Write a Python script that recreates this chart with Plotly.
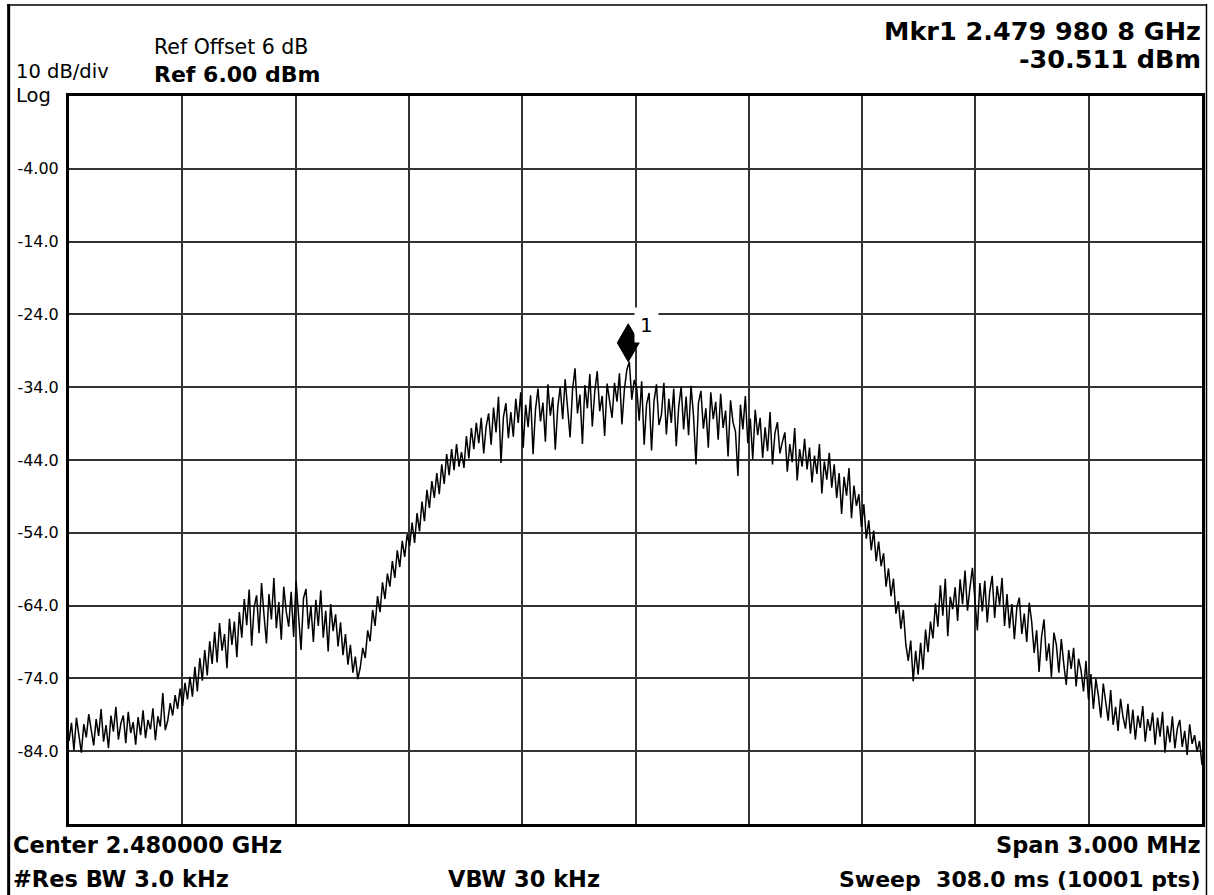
import numpy as np
import plotly.graph_objects as go

# ---------------- data ----------------
CENTER_MHZ = 2480.0
SPAN_MHZ = 3.0
REF_LEVEL_DBM = 6.0
DB_PER_DIV = 10.0
N_DIV = 10

y_tick_vals = [-4, -14, -24, -34, -44, -54, -64, -74, -84]
y_tick_text = ["-4.00", "-14.0", "-24.0", "-34.0", "-44.0", "-54.0", "-64.0", "-74.0", "-84.0"]

# trace levels (dBm), evenly spaced across the span
trace_dbm = [
    -82.6, -80.1, -83.9, -79.4, -81.8, -84.2, -80.3, -82.1, -78.9, -81.4,
    -83.2, -79.6, -81.9, -78.2, -82.7, -80.4, -83.6, -79.1, -81.3, -77.9,
    -82.4, -80.2, -79.1, -82.9, -78.6, -81.5, -80.0, -83.1, -79.3, -81.8,
    -78.4, -82.2, -79.7, -81.0, -78.1, -82.5, -79.2, -80.6, -76.0, -81.1,
    -79.8, -77.4, -79.1, -76.3, -78.2, -75.4, -77.8, -74.6, -76.9, -73.8,
    -76.5, -72.4, -75.8, -71.2, -74.3, -70.1, -73.6, -68.9, -72.0, -67.6,
    -71.8, -66.4, -70.2, -67.9, -72.6, -65.8, -69.4, -66.2, -71.1, -64.9,
    -68.4, -63.1, -66.7, -61.8, -69.5, -64.2, -62.6, -67.8, -60.9, -65.3,
    -69.2, -62.4, -65.9, -60.2, -67.1, -63.5, -68.7, -61.4, -64.8, -66.9,
    -62.1, -68.3, -60.6, -65.4, -70.1, -63.0, -61.7, -67.2, -64.1, -69.0,
    -63.2, -66.8, -61.9, -68.4, -64.7, -70.3, -63.8, -67.5, -65.2, -69.6,
    -66.3, -70.8, -67.9, -72.1, -69.4, -73.2, -71.0, -74.1, -72.5, -69.8,
    -71.2, -67.4, -68.9, -64.6, -66.8, -62.7, -64.9, -60.8, -63.1, -59.6,
    -61.4, -57.9, -60.2, -56.4, -58.7, -55.1, -57.3, -54.2, -55.8, -52.6,
    -55.4, -51.3, -53.8, -49.7, -52.4, -48.1, -50.6, -46.9, -49.2, -45.8,
    -48.7, -44.6, -47.3, -43.2, -46.1, -42.5, -45.4, -41.8, -44.9, -42.9,
    -45.1, -40.7, -43.8, -39.6, -42.5, -38.9, -41.7, -38.2, -43.1, -39.4,
    -37.6, -41.9, -36.8, -40.2, -35.3, -44.4, -38.1, -36.2, -41.0, -37.4,
    -40.8, -35.6, -38.9, -34.7, -42.3, -36.4, -39.5, -35.1, -43.2, -37.0,
    -34.2, -38.7, -36.1, -41.5, -33.6, -37.9, -35.4, -42.6, -36.8, -33.9,
    -38.4, -32.9, -36.7, -40.9, -34.3, -31.4, -37.6, -35.0, -41.8, -33.7,
    -36.9, -32.2, -39.4, -34.6, -31.8, -37.3, -35.2, -40.7, -33.5, -36.1,
    -38.2, -33.4, -36.0, -32.1, -39.1, -34.3, -31.6, -30.511, -35.7, -33.0,
    -34.1, -38.6, -33.2, -41.9, -36.3, -34.8, -42.7, -35.9, -33.6, -39.2,
    -37.8, -33.4, -40.5, -35.6, -38.9, -34.2, -42.1, -36.7, -33.9, -39.8,
    -35.3, -40.6, -33.8, -37.9, -44.6, -36.2, -34.5, -39.7, -36.9, -42.3,
    -34.7, -38.4, -36.0, -41.2, -34.9, -39.6, -37.2, -43.5, -35.8, -38.8,
    -40.1, -46.2, -36.4, -39.8, -35.2, -41.7, -38.3, -43.9, -37.1, -40.6,
    -38.2, -43.7, -39.5, -42.8, -37.4, -44.6, -40.3, -38.8, -43.1, -41.5,
    -40.2, -45.6, -41.8, -44.3, -39.6, -46.8, -42.5, -44.9, -41.1, -45.3,
    -42.3, -47.1, -43.4, -45.9, -41.8, -48.6, -44.2, -46.7, -43.0, -47.8,
    -44.6, -49.2, -45.8, -51.4, -46.3, -48.9, -45.1, -52.0, -47.5, -50.3,
    -48.7, -53.2, -50.1, -54.8, -52.3, -56.4, -53.7, -57.9, -55.2, -58.6,
    -56.8, -61.4, -58.9, -62.7, -60.3, -65.1, -63.4, -67.2, -64.6, -69.3,
    -71.6, -68.8, -74.4, -70.2, -73.5, -69.1, -72.8, -67.3, -70.4, -66.2,
    -68.5, -63.7, -66.9, -61.2, -65.4, -60.3, -68.2, -62.8, -64.5, -61.5,
    -66.1, -60.4, -63.8, -59.2, -64.7, -61.5, -58.8, -63.2, -67.4, -60.9,
    -64.8, -60.6, -66.3, -62.1, -59.9, -65.7, -61.3, -63.9, -60.2, -66.8,
    -62.4, -67.1, -63.8, -68.6, -64.2, -62.9, -67.9, -65.1, -69.0, -63.6,
    -66.2, -70.5, -67.4, -73.1, -68.3, -65.9, -71.6, -69.2, -73.8, -67.7,
    -69.4, -73.2, -68.6, -72.0, -74.9, -70.1, -72.7, -69.8, -75.1, -71.3,
    -72.9, -75.8, -71.6, -76.9, -73.4, -78.2, -74.1, -76.3, -79.4, -74.7,
    -77.1, -79.8, -75.6, -80.4, -77.9, -81.2, -76.8, -79.3, -80.9, -77.5,
    -81.6, -78.3, -82.4, -79.1, -80.8, -77.8, -82.7, -79.6, -81.2, -78.7,
    -83.1, -79.4, -82.0, -78.6, -84.2, -80.5, -82.8, -79.2, -83.6, -80.9,
    -79.7, -83.4, -81.2, -84.5, -80.3, -83.0, -81.8, -84.1, -82.6, -85.9,
]

marker_freq_mhz = 2479.9808
marker_level_dbm = -30.511

label_ref_offset = "Ref Offset 6 dB"
label_ref = "Ref 6.00 dBm"
label_scale = "10 dB/div"
label_log = "Log"
label_mkr1 = "Mkr1 2.479 980 8 GHz"
label_mkr2 = "-30.511 dBm"
label_center = "Center 2.480000 GHz"
label_rbw = "#Res BW 3.0 kHz"
label_vbw = "VBW 30 kHz"
label_span = "Span 3.000 MHz"
label_sweep = "Sweep\u00a0 308.0 ms (10001 pts)"

# ---------------- layout helpers ----------------
W, H = 1214, 895
ML, MR, MT, MB = 69, 9, 96, 71
PW = W - ML - MR
PH = H - MT - MB
FONT = "DejaVu Sans"


def px(x):
    return (x - ML) / PW


def py(y):
    return (H - MB - y) / PH


freq_mhz = np.linspace(CENTER_MHZ - SPAN_MHZ / 2, CENTER_MHZ + SPAN_MHZ / 2, len(trace_dbm))
x_grid = [CENTER_MHZ - SPAN_MHZ / 2 + k * SPAN_MHZ / N_DIV for k in range(1, N_DIV)]
y_bottom = REF_LEVEL_DBM - DB_PER_DIV * N_DIV

fig = go.Figure()
fig.add_trace(go.Scatter(
    x=freq_mhz, y=trace_dbm, mode="lines",
    line=dict(color="black", width=1.5),
    hoverinfo="skip", showlegend=False,
))

fig.update_xaxes(
    range=[CENTER_MHZ - SPAN_MHZ / 2, CENTER_MHZ + SPAN_MHZ / 2],
    tickmode="array", tickvals=x_grid, showticklabels=False, ticks="",
    showgrid=True, gridcolor="#333333", gridwidth=1.5, zeroline=False,
    showline=True, linecolor="black", linewidth=3, mirror=True,
)
fig.update_yaxes(
    range=[y_bottom, REF_LEVEL_DBM],
    tickmode="array", tickvals=y_tick_vals, ticktext=y_tick_text, ticks="",
    ticklabelstandoff=4,
    tickfont=dict(family=FONT, size=16, color="black"),
    showgrid=True, gridcolor="#333333", gridwidth=1.5, zeroline=False,
    showline=True, linecolor="black", linewidth=3, mirror=True,
)


def txt(s, x, y, size, bold=False, xanchor="left"):
    return dict(
        text=s, x=px(x), y=py(y), xref="paper", yref="paper",
        xanchor=xanchor, yanchor="middle", showarrow=False, borderpad=0,
        font=dict(family=FONT, size=size, color="black",
                  weight="bold" if bold else "normal"),
    )


annotations = [
    txt(label_scale, 15, 72, 19.5),
    txt(label_log, 15, 95, 19.5),
    txt(label_ref_offset, 153, 47, 20.5),
    txt(label_ref, 153, 74, 22, bold=True),
    txt(label_mkr1, 1205, 31, 25.5, bold=True, xanchor="right"),
    txt(label_mkr2, 1205, 59, 25.5, bold=True, xanchor="right"),
    txt(label_center, 12, 845, 22.5, bold=True),
    txt(label_rbw, 12, 879, 22.5, bold=True),
    txt(label_vbw, 525, 879, 22.5, bold=True, xanchor="center"),
    txt(label_span, 1205, 845, 22.5, bold=True, xanchor="right"),
    txt(label_sweep, 1205, 879, 22, bold=True, xanchor="right"),
    dict(text="1", x=marker_freq_mhz, y=marker_level_dbm, xref="x", yref="y",
         xshift=18, yshift=37, showarrow=False, bgcolor="white", borderpad=5,
         xanchor="center", yanchor="middle",
         font=dict(family=FONT, size=20, color="black")),
]

shapes = [
    # marker diamond, bottom tip at the marker point
    dict(type="path", xref="x", yref="y", xsizemode="pixel", ysizemode="pixel",
         xanchor=marker_freq_mhz, yanchor=marker_level_dbm,
         path="M 0 0 L 11 19 L 0 38 L -11 19 Z",
         fillcolor="black", line=dict(color="black", width=1)),
    # outer screen border
    dict(type="line", xref="paper", yref="paper", x0=px(8.5), x1=px(8.5), y0=py(4), y1=py(900),
         line=dict(color="black", width=3)),
    dict(type="line", xref="paper", yref="paper", x0=px(7), x1=px(1209.5), y0=py(5), y1=py(5),
         line=dict(color="black", width=1.5)),
    dict(type="line", xref="paper", yref="paper", x0=px(1209.5), x1=px(1209.5), y0=py(4), y1=py(900),
         line=dict(color="black", width=1.5)),
]

fig.update_layout(
    width=W, height=H,
    margin=dict(l=ML, r=MR, t=MT, b=MB, pad=0),
    paper_bgcolor="white", plot_bgcolor="white",
    showlegend=False,
    annotations=annotations, shapes=shapes,
    font=dict(family=FONT, color="black"),
)

fig.write_html("out.html")
